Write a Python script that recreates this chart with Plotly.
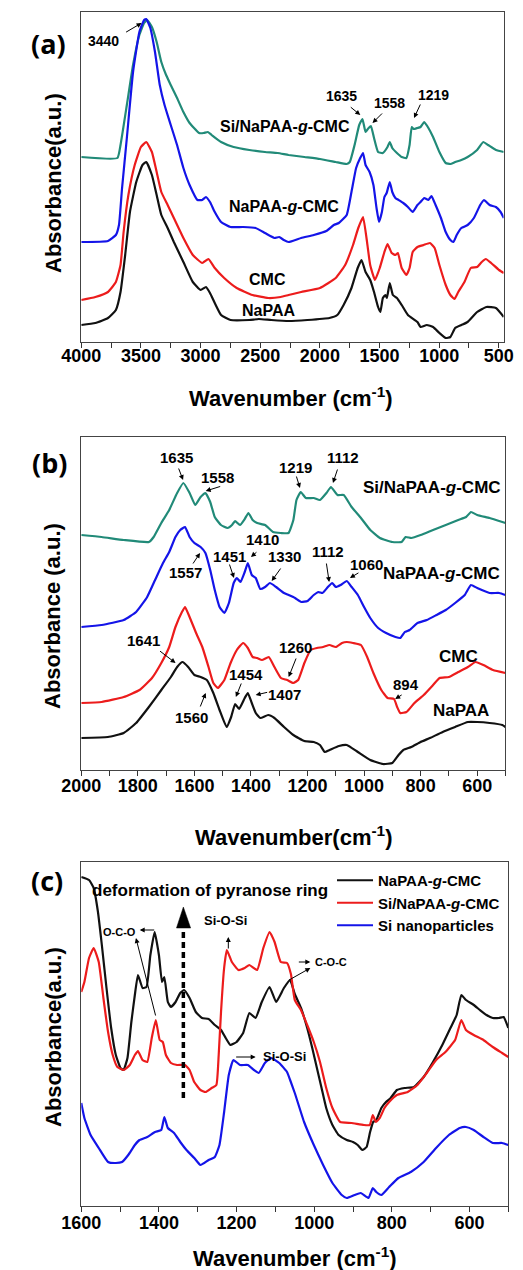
import plotly.graph_objects as go

W, H = 523, 1270

# ---------------- Panel (a) data: wavenumber (cm-1) / absorbance (a.u.) ----------------
a_si_wn = [4000, 3697, 3671, 3618, 3566, 3513, 3473, 3447, 3408, 3368, 3329, 3289, 3250, 3197, 3144, 3092, 3013, 2974, 2939, 2907, 2828, 2723, 2591, 2460, 2354, 2262, 2130, 1999, 1867, 1775, 1749, 1709, 1670, 1643, 1617, 1591, 1572, 1546, 1512, 1472, 1433, 1414, 1393, 1354, 1314, 1275, 1248, 1230, 1214, 1182, 1156, 1125, 1090, 1051, 998, 945, 906, 866, 814, 761, 682, 630, 590, 524, 458]
a_si_ab = [185, 184, 197, 237, 277, 307, 319, 322, 315, 300, 280, 267, 257, 244, 230, 219, 209, 209, 210, 207, 200, 195, 192, 190, 189, 187, 185, 183, 180, 178, 180, 197, 217, 223, 210, 214, 216, 204, 190, 189, 195, 200, 194, 189, 185, 184, 197, 215, 213, 214, 215, 220, 214, 205, 190, 179, 178, 180, 182, 185, 192, 200, 197, 192, 190]

a_g_wn = [4000, 3776, 3710, 3684, 3658, 3618, 3566, 3513, 3473, 3455, 3421, 3382, 3342, 3302, 3250, 3197, 3144, 3092, 3026, 2986, 2955, 2921, 2881, 2828, 2749, 2644, 2539, 2460, 2381, 2341, 2302, 2262, 2157, 2051, 1946, 1883, 1841, 1775, 1735, 1696, 1662, 1638, 1617, 1583, 1551, 1525, 1504, 1480, 1459, 1440, 1414, 1393, 1367, 1340, 1301, 1262, 1222, 1182, 1156, 1125, 1090, 1064, 1030, 985, 945, 906, 880, 853, 814, 761, 709, 656, 624, 577, 524, 485, 458]
a_g_ab = [100, 101, 107, 117, 154, 204, 270, 310, 322, 323, 314, 290, 257, 237, 217, 197, 174, 157, 142, 142, 145, 140, 130, 120, 115, 115, 114, 109, 104, 105, 102, 100, 104, 107, 111, 117, 119, 127, 150, 174, 184, 189, 177, 170, 157, 134, 120, 130, 145, 149, 160, 150, 144, 142, 139, 135, 130, 137, 140, 144, 142, 146, 137, 124, 110, 102, 100, 107, 114, 117, 124, 137, 142, 137, 135, 130, 124]

a_cmc_wn = [4000, 3882, 3776, 3710, 3671, 3645, 3605, 3552, 3500, 3455, 3408, 3368, 3329, 3276, 3224, 3144, 3065, 2986, 2934, 2881, 2802, 2697, 2565, 2433, 2328, 2262, 2157, 1999, 1867, 1788, 1722, 1678, 1638, 1609, 1578, 1538, 1498, 1459, 1433, 1398, 1367, 1346, 1314, 1275, 1248, 1222, 1182, 1130, 1077, 1038, 998, 945, 906, 872, 840, 788, 735, 682, 643, 609, 564, 498, 458]
a_cmc_ab = [42, 45, 50, 60, 77, 110, 147, 177, 195, 200, 190, 170, 150, 137, 124, 104, 87, 79, 83, 74, 64, 54, 47, 44, 45, 47, 50, 54, 64, 77, 97, 114, 125, 104, 77, 62, 74, 90, 98, 89, 87, 89, 74, 67, 74, 90, 95, 97, 99, 94, 77, 57, 47, 43, 50, 60, 74, 75, 80, 83, 79, 72, 69]

a_paa_wn = [4000, 3882, 3776, 3710, 3671, 3632, 3592, 3539, 3487, 3455, 3408, 3368, 3329, 3276, 3224, 3144, 3065, 2999, 2955, 2921, 2881, 2828, 2749, 2591, 2512, 2407, 2262, 2104, 1920, 1854, 1801, 1735, 1683, 1651, 1617, 1578, 1546, 1512, 1493, 1472, 1451, 1438, 1414, 1388, 1354, 1314, 1262, 1182, 1156, 1104, 1051, 998, 945, 906, 866, 814, 761, 682, 604, 524, 458]
a_paa_ab = [17, 19, 24, 32, 50, 87, 130, 160, 177, 180, 167, 147, 127, 114, 100, 80, 60, 52, 55, 49, 39, 27, 22, 22, 23, 22, 21, 22, 24, 27, 37, 54, 74, 82, 70, 62, 50, 35, 30, 44, 47, 44, 59, 47, 44, 37, 27, 20, 15, 17, 15, 9, 4, 5, 14, 17, 20, 30, 35, 34, 25]

# ---------------- Panel (b) data ----------------
b_si_wn = [2000, 1928, 1850, 1761, 1744, 1717, 1689, 1661, 1639, 1617, 1597, 1578, 1561, 1544, 1528, 1506, 1483, 1467, 1456, 1439, 1422, 1409, 1394, 1378, 1350, 1322, 1294, 1267, 1250, 1239, 1224, 1206, 1178, 1156, 1133, 1117, 1094, 1072, 1044, 1011, 978, 944, 900, 867, 853, 833, 800, 756, 711, 667, 639, 622, 600, 556, 511, 500]
b_si_ab = [235, 233, 230, 228, 233, 247, 260, 277, 287, 277, 265, 273, 277, 268, 253, 245, 242, 245, 249, 245, 251, 257, 250, 247, 245, 238, 237, 237, 250, 270, 278, 272, 272, 270, 277, 283, 275, 275, 263, 252, 240, 232, 228, 228, 233, 232, 235, 240, 245, 250, 253, 258, 255, 252, 248, 247]

b_g_wn = [2000, 1928, 1850, 1806, 1767, 1739, 1711, 1689, 1667, 1650, 1633, 1617, 1600, 1578, 1561, 1544, 1528, 1511, 1494, 1478, 1461, 1450, 1437, 1422, 1411, 1397, 1383, 1367, 1350, 1333, 1311, 1283, 1267, 1244, 1222, 1200, 1178, 1161, 1147, 1128, 1113, 1100, 1083, 1061, 1044, 1022, 1000, 978, 950, 922, 889, 872, 856, 839, 811, 778, 744, 711, 678, 644, 622, 600, 556, 522, 500]
b_g_ab = [143, 145, 150, 158, 173, 190, 207, 218, 233, 240, 243, 233, 227, 223, 217, 200, 180, 163, 157, 167, 187, 192, 188, 198, 207, 195, 192, 181, 183, 187, 183, 177, 175, 172, 168, 169, 175, 178, 177, 183, 187, 183, 185, 189, 183, 175, 163, 152, 142, 137, 133, 132, 138, 140, 147, 150, 155, 160, 167, 175, 185, 182, 177, 177, 175]

b_cmc_wn = [2000, 1928, 1850, 1794, 1750, 1717, 1689, 1667, 1644, 1633, 1617, 1594, 1572, 1550, 1533, 1517, 1494, 1472, 1450, 1428, 1411, 1394, 1378, 1361, 1337, 1317, 1294, 1272, 1250, 1233, 1211, 1189, 1167, 1145, 1122, 1100, 1078, 1061, 1039, 1011, 989, 967, 939, 917, 894, 883, 872, 850, 822, 789, 756, 733, 700, 667, 633, 606, 578, 544, 500]
b_cmc_ab = [67, 68, 73, 80, 92, 107, 123, 143, 158, 163, 153, 137, 123, 103, 87, 82, 90, 107, 120, 127, 122, 113, 112, 110, 113, 103, 92, 90, 87, 90, 107, 120, 122, 123, 125, 123, 127, 128, 127, 125, 113, 97, 80, 72, 71, 63, 57, 58, 67, 75, 85, 92, 93, 98, 103, 108, 105, 100, 97]

b_paa_wn = [2000, 1906, 1850, 1806, 1761, 1717, 1683, 1661, 1642, 1622, 1600, 1578, 1556, 1533, 1511, 1486, 1470, 1456, 1442, 1422, 1411, 1397, 1383, 1367, 1339, 1317, 1283, 1250, 1211, 1178, 1156, 1139, 1122, 1089, 1061, 1022, 978, 933, 900, 878, 861, 833, 800, 767, 722, 678, 633, 600, 556, 511, 500]
b_paa_ab = [32, 33, 37, 47, 63, 80, 93, 103, 108, 103, 95, 93, 90, 77, 60, 43, 53, 66, 61, 72, 77, 67, 57, 52, 55, 52, 43, 35, 29, 28, 25, 18, 20, 24, 25, 18, 10, 6, 7, 15, 20, 23, 28, 32, 38, 43, 48, 48, 47, 45, 43]

# ---------------- Panel (c) data ----------------
c_g_wn = [1600, 1580, 1568, 1557, 1547, 1535, 1523, 1511, 1499, 1491, 1481, 1471, 1462, 1454, 1442, 1432, 1422, 1411, 1400, 1392, 1386, 1377, 1369, 1357, 1345, 1335, 1321, 1305, 1289, 1272, 1256, 1240, 1228, 1216, 1200, 1183, 1167, 1151, 1135, 1115, 1098, 1078, 1062, 1050, 1034, 1018, 1005, 993, 981, 969, 953, 937, 916, 900, 888, 876, 865, 856, 848, 840, 827, 815, 803, 787, 767, 743, 718, 694, 670, 649, 633, 621, 609, 589, 573, 556, 540, 524, 512, 500]
c_g_ab = [329, 326, 318, 294, 261, 218, 178, 151, 138, 136, 148, 184, 211, 231, 218, 219, 251, 274, 251, 224, 229, 204, 199, 204, 213, 216, 208, 194, 188, 187, 181, 176, 168, 161, 164, 173, 193, 188, 204, 219, 204, 218, 226, 212, 198, 178, 158, 138, 118, 98, 81, 71, 66, 64, 61, 56, 59, 74, 84, 86, 98, 104, 108, 116, 118, 119, 129, 144, 161, 178, 191, 211, 206, 201, 196, 191, 188, 188, 189, 178]

c_si_wn = [1600, 1592, 1580, 1568, 1555, 1543, 1531, 1519, 1507, 1491, 1475, 1462, 1454, 1442, 1430, 1418, 1408, 1398, 1390, 1382, 1369, 1353, 1333, 1321, 1309, 1293, 1280, 1264, 1252, 1246, 1240, 1232, 1225, 1212, 1195, 1179, 1167, 1147, 1131, 1115, 1102, 1086, 1070, 1060, 1050, 1034, 1018, 1001, 985, 969, 953, 933, 904, 872, 857, 849, 841, 831, 819, 807, 787, 759, 734, 710, 686, 662, 637, 621, 609, 589, 564, 540, 516, 500]
c_si_ab = [214, 224, 248, 258, 244, 208, 174, 151, 139, 136, 141, 151, 155, 146, 144, 169, 186, 166, 164, 151, 143, 141, 141, 136, 124, 116, 114, 118, 121, 151, 194, 238, 256, 244, 236, 238, 241, 236, 258, 274, 264, 244, 243, 232, 206, 196, 181, 164, 144, 118, 98, 84, 83, 81, 81, 91, 84, 88, 98, 104, 111, 114, 121, 133, 146, 154, 166, 186, 176, 171, 166, 159, 153, 149]

c_np_wn = [1600, 1592, 1576, 1555, 1531, 1511, 1495, 1479, 1462, 1450, 1430, 1410, 1394, 1386, 1377, 1361, 1345, 1329, 1309, 1293, 1272, 1256, 1244, 1232, 1220, 1208, 1191, 1171, 1155, 1143, 1127, 1111, 1090, 1070, 1062, 1050, 1026, 1001, 977, 953, 929, 916, 896, 880, 860, 849, 840, 827, 807, 783, 751, 718, 686, 653, 625, 609, 589, 564, 540, 516, 500]
c_np_ab = [103, 88, 71, 58, 44, 43, 44, 51, 61, 66, 69, 74, 76, 89, 78, 73, 64, 56, 48, 41, 46, 49, 61, 94, 131, 146, 141, 141, 136, 133, 143, 148, 143, 134, 126, 113, 84, 61, 41, 23, 11, 8, 11, 13, 8, 18, 14, 11, 19, 28, 34, 44, 58, 71, 78, 79, 76, 69, 63, 63, 61]

# ---------------- labels ----------------
names_ab = ["Si/NaPAA-<i>g</i>-CMC", "NaPAA-<i>g</i>-CMC", "CMC", "NaPAA"]
names_c = ["NaPAA-<i>g</i>-CMC", "Si/NaPAA-<i>g</i>-CMC", "Si nanoparticles"]
ticks_a = [4000, 3500, 3000, 2500, 2000, 1500, 1000, 500]
ticks_b = [2000, 1800, 1600, 1400, 1200, 1000, 800, 600]
ticks_c = [1600, 1400, 1200, 1000, 800, 600]

TEAL, BLUE, RED, BLACK = "#218a78", "#1414e8", "#ec1c1c", "#111111"
FONT = "Liberation Sans"


def px(x):
    return x / W


def py(y):
    return 1 - y / H


# panel geometry in page pixels: left, right, top, bottom
geo = {
    "a": (65, 513, 12, 342),
    "b": (65, 515, 437, 770),
    "c": (65, 518, 862, 1206),
}

fig = go.Figure()

def add(wn, ab, color, xa, ya, name=None, legend=False):
    fig.add_trace(go.Scatter(
        x=wn, y=ab, mode="lines", name=name, showlegend=legend,
        line=dict(color=color, width=2.2, shape="spline", smoothing=0.4),
        xaxis=xa, yaxis=ya, hoverinfo="skip"))

add(a_si_wn, a_si_ab, TEAL, "x", "y")
add(a_g_wn, a_g_ab, BLUE, "x", "y")
add(a_cmc_wn, a_cmc_ab, RED, "x", "y")
add(a_paa_wn, a_paa_ab, BLACK, "x", "y")

add(b_si_wn, b_si_ab, TEAL, "x2", "y2")
add(b_g_wn, b_g_ab, BLUE, "x2", "y2")
add(b_cmc_wn, b_cmc_ab, RED, "x2", "y2")
add(b_paa_wn, b_paa_ab, BLACK, "x2", "y2")

add(c_g_wn, c_g_ab, BLACK, "x3", "y3", names_c[0], True)
add(c_si_wn, c_si_ab, RED, "x3", "y3", names_c[1], True)
add(c_np_wn, c_np_ab, BLUE, "x3", "y3", names_c[2], True)


def xaxis_cfg(key, rng, tickvals, minor, standoff):
    l, r, t, b = geo[key]
    return dict(
        domain=[px(l), px(r)], range=rng, tickmode="array", tickvals=tickvals,
        ticks="outside", ticklen=5, tickwidth=1, tickcolor="#333",
        minor=dict(dtick=minor, tick0=0, ticks="outside", ticklen=5, tickwidth=1, tickcolor="#333"),
        showline=True, linecolor="#444", linewidth=1, mirror=True,
        showgrid=False, zeroline=False, ticklabelstandoff=standoff,
        tickfont=dict(family=FONT, size=18, color="black", weight="bold"),
        anchor={"a": "y", "b": "y2", "c": "y3"}[key])


def yaxis_cfg(key):
    l, r, t, b = geo[key]
    return dict(
        domain=[py(b), py(t)], range=[0, b - t], showticklabels=False, ticks="",
        showline=True, linecolor="#444", linewidth=1, mirror=True,
        showgrid=False, zeroline=False,
        anchor={"a": "x", "b": "x2", "c": "x3"}[key])


ann = []

def text(x, y, s, size, xanchor="center", angle=0, family=FONT):
    ann.append(dict(x=px(x), y=py(y), xref="paper", yref="paper", text=s, showarrow=False,
                    xanchor=xanchor, yanchor="middle", textangle=angle,
                    font=dict(family=family, size=size, color="black", weight="bold")))

def arrow(tail, tip, width=1, size=1, head=2):
    ann.append(dict(x=px(tip[0]), y=py(tip[1]), xref="paper", yref="paper", text="",
                    showarrow=True, ax=tail[0] - tip[0], ay=tail[1] - tip[1],
                    axref="pixel", ayref="pixel", arrowhead=head, arrowsize=size,
                    arrowwidth=width, arrowcolor="black", standoff=0, startstandoff=0))

# panel letters
text(30, 43, "(a)", 27, family="Open Sans")
text(31, 463, "(b)", 27, family="Open Sans")
text(29, 880, "(c)", 27, family="Open Sans")

# y titles
text(35, 183, "Absorbance(a.u.)", 22, angle=-90)
text(35, 616, "Absorbance (a.u.)", 22, angle=-90)
text(35, 1037, "Absorbance(a.u.)", 22, angle=-90)

# x titles
text(287, 397, "Wavenumber (cm<sup>-1</sup>)", 22)
text(290, 836, "Wavenumber(cm<sup>-1</sup>)", 22)
text(292, 1257, "Wavenumber (cm<sup>-1</sup>)", 22)

# panel (a) labels
text(281, 127, names_ab[0], 16)
text(280, 207, names_ab[1], 16)
text(263, 279, names_ab[2], 16)
text(264, 310, names_ab[3], 16)
text(89, 41, "3440", 14)
arrow((112, 33), (129, 23))
text(341, 96, "1635", 14)
arrow((350, 106), (361, 115))
text(392, 103, "1558", 14)
arrow((385, 112), (374, 123))
text(439, 95, "1219", 14)
arrow((425, 103), (418, 118))

# panel (b) labels
text(437, 488, names_ab[0], 17)
text(447, 573, names_ab[1], 17)
text(465, 656, names_ab[2], 17)
text(468, 710, names_ab[3], 17)
for s, tx, ty, tail, tip in [
    ("1635", 166, 457, (168, 467), (173, 480)),
    ("1558", 210, 477, (213, 486), (197, 491)),
    ("1219", 292, 467, (293, 475), (297, 488)),
    ("1112", 343, 457, (337, 468), (332, 483)),
    ("1557", 176, 572, (183, 565), (191, 553)),
    ("1451", 222, 556, (222, 563), (227, 578)),
    ("1410", 257, 539, (252, 551), (245, 557)),
    ("1330", 281, 557, (277, 567), (267, 581)),
    ("1112", 327, 551, (325, 562), (328, 582)),
    ("1060", 368, 564, (360, 572), (350, 578)),
    ("1641", 131, 640, (148, 650), (165, 663)),
    ("1260", 292, 647, (293, 657), (285, 677)),
    ("1454", 240, 674, (235, 682), (229, 697)),
    ("1407", 281, 694, (263, 692), (250, 695)),
    ("894", 409, 684, (406, 694), (398, 699)),
    ("1560", 182, 717, (191, 708), (197, 693)),
]:
    text(tx, ty, s, 15)
    arrow(tail, tip)

# panel (c) labels
text(202, 890, "deformation of pyranose ring", 17)
text(106, 932, "O-C-O", 11)
arrow((143, 930), (127, 930))
arrow((143, 1017), (123, 938))
text(218, 920, "Si-O-Si", 13)
arrow((221, 950), (221, 937))
text(330, 962, "C-O-C", 11)
arrow((295, 962), (308, 962))
arrow((285, 981), (308, 968))
text(281, 1056, "Si-O-Si", 13)
arrow((229, 1057), (250, 1057))

shapes = [
    dict(type="line", xref="paper", yref="paper", x0=px(173.3), x1=px(173.3),
         y0=py(1098), y1=py(926), line=dict(color="black", width=3.5, dash="6px,4px")),
    dict(type="path", xref="paper", yref="paper",
         path=f"M {px(166):.5f},{py(928):.5f} L {px(181):.5f},{py(928):.5f} L {px(173.3):.5f},{py(907):.5f} Z",
         fillcolor="black", line=dict(color="black", width=0.5)),
]

fig.update_layout(
    width=W, height=H, autosize=False,
    margin=dict(l=0, r=0, t=0, b=0),
    paper_bgcolor="white", plot_bgcolor="white",
    xaxis=xaxis_cfg("a", [4000, 460], ticks_a, 250, -8),
    xaxis2=xaxis_cfg("b", [2000, 500], ticks_b, 100, -6),
    xaxis3=xaxis_cfg("c", [1600, 500], ticks_c, 100, -5),
    yaxis=yaxis_cfg("a"), yaxis2=yaxis_cfg("b"), yaxis3=yaxis_cfg("c"),
    annotations=ann, shapes=shapes,
    legend=dict(x=px(331), y=py(864), xanchor="left", yanchor="top",
                bgcolor="rgba(0,0,0,0)", itemwidth=36, tracegroupgap=0,
                font=dict(family=FONT, size=15, color="black", weight="bold")),
    showlegend=True,
)

fig.write_html("out.html", config={"displayModeBar": False},
               post_script="document.body.style.margin='0px';document.body.style.overflow='hidden';")
